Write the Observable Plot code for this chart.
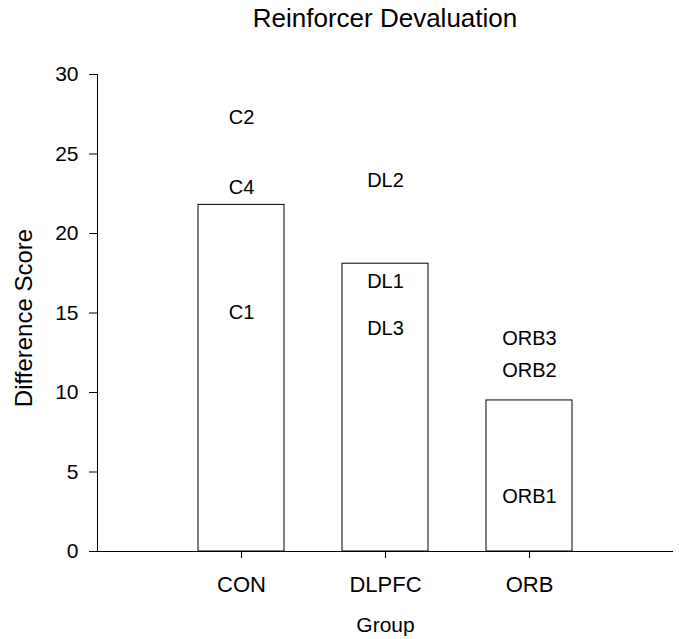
<!DOCTYPE html>
<html>
<head>
<meta charset="utf-8">
<script src="https://cdn.jsdelivr.net/npm/d3@7"></script>
<script src="https://cdn.jsdelivr.net/npm/@observablehq/plot@0.6"></script>
<style>
  html, body { margin: 0; padding: 0; background: #fff; }
  body { width: 679px; height: 639px; overflow: hidden; font-family: "Liberation Sans", Arial, sans-serif; }
  #title { box-sizing: border-box; height: 40px; line-height: 36px; font-size: 26px; text-align: center; padding-left: 97px; padding-right: 6px; color: #000; }
</style>
</head>
<body>
<div id="title">Reinforcer Devaluation</div>
<div id="chart"></div>
<script>
const groups = ["CON", "DLPFC", "ORB"];
const groupMeans = [21.8, 18.1, 9.5];

const pointGroups = ["CON", "CON", "CON", "DLPFC", "DLPFC", "DLPFC", "ORB", "ORB", "ORB"];
const pointNames  = ["C2", "C4", "C1", "DL2", "DL1", "DL3", "ORB3", "ORB2", "ORB1"];
const pointValues = [27.3, 22.9, 15.0, 23.3, 16.95, 14.0, 13.4, 11.35, 3.45];

const yTicks = [0, 5, 10, 15, 20, 25, 30];

const bars = groups.map((g, i) => ({group: g, value: groupMeans[i]}));
const points = pointNames.map((n, i) => ({group: pointGroups[i], name: n, value: pointValues[i]}));

const plot = Plot.plot({
  width: 679,
  height: 599,
  marginLeft: 97,
  marginRight: 6,
  marginTop: 34,
  marginBottom: 88,
  style: {fontFamily: "'Liberation Sans', Arial, sans-serif", color: "#000", background: "#fff"},
  x: {domain: groups, paddingInner: 0.4, paddingOuter: 0.7, align: 0.5, label: null},
  y: {domain: [0, 30], label: null},
  marks: [
    Plot.barY(bars, {x: "group", y: "value", fill: "white", stroke: "black", strokeWidth: 1}),
    Plot.ruleY([0], {stroke: "black", strokeWidth: 1}),
    Plot.frame({anchor: "left", stroke: "black", strokeWidth: 1}),
    Plot.axisY({ticks: yTicks, tickSize: 8, tickPadding: 11, fontSize: 21, label: null, stroke: "black"}),
    Plot.axisX({tickSize: 7, tickPadding: 18, fontSize: 22, label: null, stroke: "black"}),
    Plot.text(points, {x: "group", y: "value", text: "name", fontSize: 20, fill: "black"}),
    Plot.text(["Group"], {text: d => d, frameAnchor: "bottom", lineAnchor: "top", dy: 66, fontSize: 21, fill: "black"}),
    Plot.text(["Difference Score"], {text: d => d, frameAnchor: "left", textAnchor: "middle", rotate: -90, dx: -73, dy: 5, fontSize: 24, fill: "black"})
  ]
});
document.getElementById("chart").appendChild(plot);
</script>
</body>
</html>
